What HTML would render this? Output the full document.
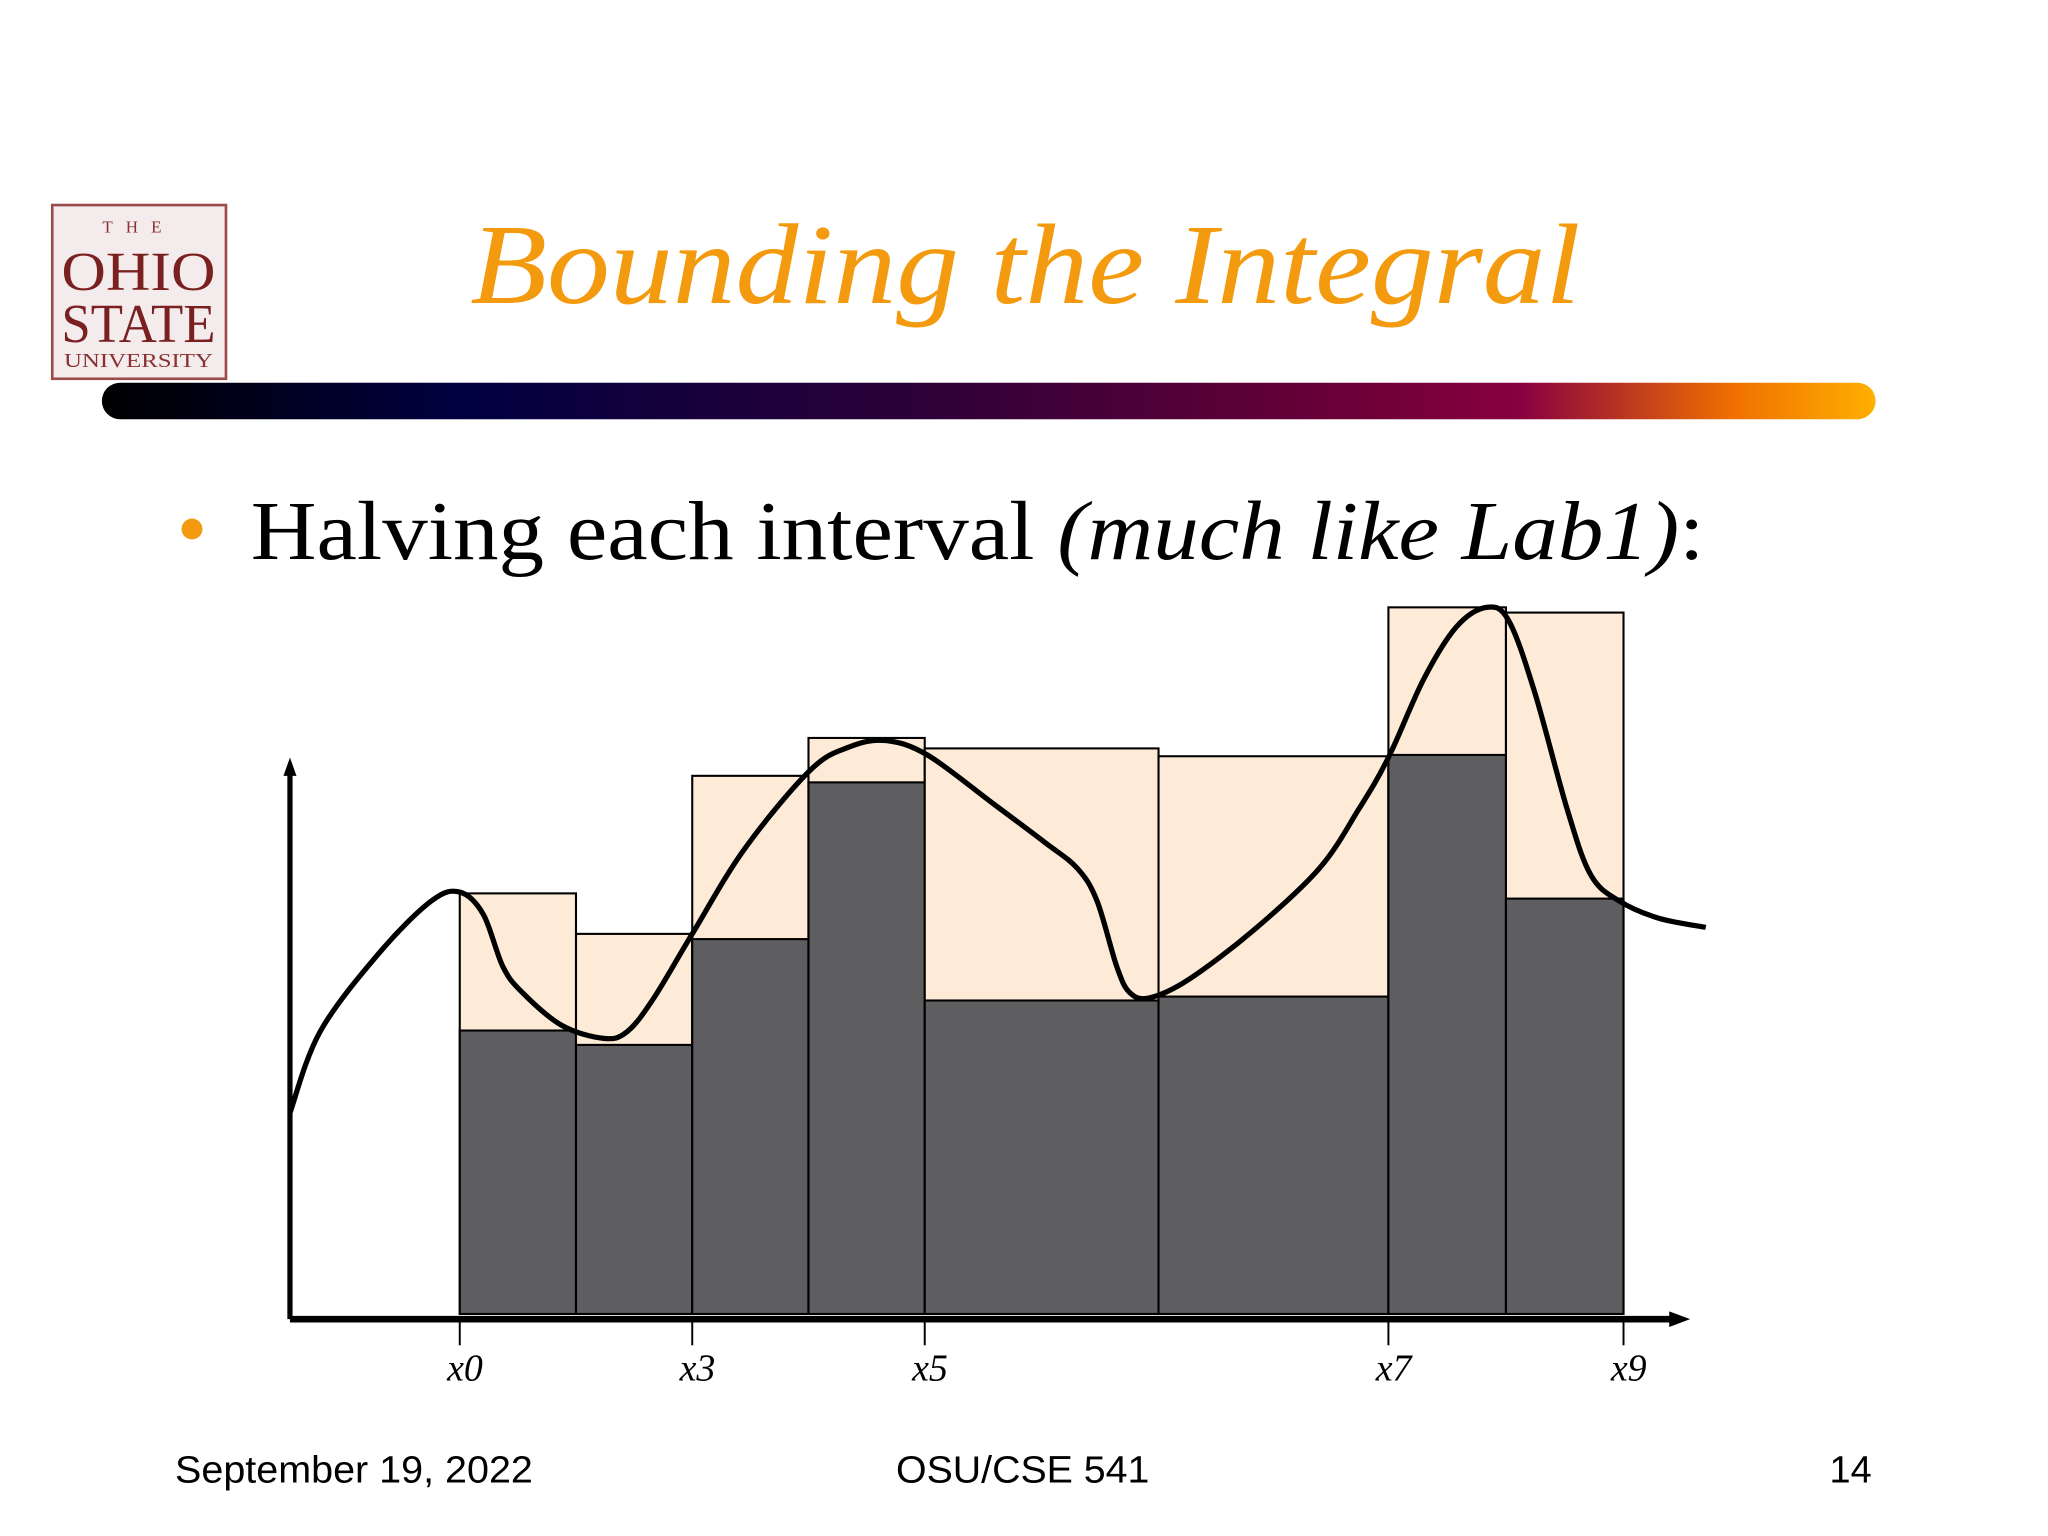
<!DOCTYPE html>
<html><head><meta charset="utf-8"><style>
html,body{margin:0;padding:0;background:#fff;}
svg{display:block;}
</style></head><body>
<svg id="slide" width="2048" height="1536" viewBox="0 0 1568 1176" xmlns="http://www.w3.org/2000/svg">
<defs>
<linearGradient id="bar" x1="0" x2="1" y1="0" y2="0">
<stop offset="0" stop-color="#000"/>
<stop offset="0.2" stop-color="#000040"/>
<stop offset="0.45" stop-color="#2a0038"/>
<stop offset="0.72" stop-color="#700038"/>
<stop offset="0.8" stop-color="#880040"/>
<stop offset="0.92" stop-color="#f07000"/>
<stop offset="1" stop-color="#ffb000"/>
</linearGradient>
</defs>
<g>
<rect x="40" y="157" width="133" height="133" fill="#f4ecec" stroke="#9a4a4a" stroke-width="2"/>
<text x="106" y="178" font-family="Liberation Serif, serif" font-size="13" fill="#8a3030" text-anchor="middle" letter-spacing="10">THE</text>
<text x="106" y="222" font-family="Liberation Serif, serif" font-size="42" fill="#7a2020" text-anchor="middle" textLength="118" lengthAdjust="spacingAndGlyphs">OHIO</text>
<text x="106" y="262" font-family="Liberation Serif, serif" font-size="42" fill="#7a2020" text-anchor="middle" textLength="118" lengthAdjust="spacingAndGlyphs">STATE</text>
<text x="106" y="281" font-family="Liberation Serif, serif" font-size="15" fill="#8a3030" text-anchor="middle" textLength="114" lengthAdjust="spacingAndGlyphs">UNIVERSITY</text>
</g>
<text x="360" y="232" font-family="Liberation Serif, serif" font-style="italic" font-size="88" fill="#f39a0f" textLength="850" lengthAdjust="spacingAndGlyphs">Bounding the Integral</text>
<rect x="78" y="293" width="1358" height="28" rx="14" fill="url(#bar)"/>
<circle cx="147" cy="405" r="8" fill="#f39a0f"/>
<text x="192" y="428" font-family="Liberation Serif, serif" font-size="64" fill="#000" textLength="1113" lengthAdjust="spacingAndGlyphs">Halving each interval <tspan font-style="italic">(much like Lab1)</tspan>:</text>
<g id="chart"></g>
<text x="134" y="1135" font-family="Liberation Sans, sans-serif" font-size="29" fill="#000" textLength="274" lengthAdjust="spacingAndGlyphs">September 19, 2022</text>
<text x="686" y="1135" font-family="Liberation Sans, sans-serif" font-size="29" fill="#000" textLength="194" lengthAdjust="spacingAndGlyphs">OSU/CSE 541</text>
<text x="1433" y="1135" font-family="Liberation Sans, sans-serif" font-size="29" fill="#000" text-anchor="end">14</text>
</svg>
<script>
const edges = [1.30, 2.19, 3.08, 3.97, 4.86, 6.65, 8.41, 9.31, 10.21];
const upperVals = [3.22, 2.91, 4.12, 4.41, 4.33, 4.27, 5.41, 5.37];
const lowerVals = [2.17, 2.06, 2.87, 4.07, 2.40, 2.43, 4.28, 3.18];
const tickIdx = [0, 2, 4, 6, 8];
const tickLabels = ["x0", "x3", "x5", "x7", "x9"];
const curveX = [0, 0.23, 0.68, 1.08, 1.30, 1.48, 1.63, 1.78, 2.08, 2.40, 2.58, 2.78, 3.08, 3.48, 3.98, 4.28, 4.56, 4.88, 5.38, 5.78, 6.03, 6.18, 6.33, 6.43, 6.58, 6.88, 7.38, 7.88, 8.18, 8.41, 8.68, 8.93, 9.16, 9.33, 9.53, 9.78, 9.96, 10.18, 10.48, 10.84];
const curveY = [1.54, 2.16, 2.76, 3.16, 3.23, 3.06, 2.66, 2.46, 2.21, 2.11, 2.16, 2.41, 2.91, 3.56, 4.16, 4.34, 4.39, 4.28, 3.91, 3.61, 3.41, 3.16, 2.66, 2.46, 2.42, 2.56, 2.94, 3.41, 3.86, 4.26, 4.86, 5.26, 5.41, 5.31, 4.76, 3.86, 3.36, 3.16, 3.03, 2.96];

const NS = "http://www.w3.org/2000/svg";
const X0 = 222, YB = 1006;
const xs = v => X0 + v * 100;
const ys = v => YB - v * 100;
const g = document.getElementById('chart');
function mk(tag, attrs) {
  const e = document.createElementNS(NS, tag);
  for (const k in attrs) e.setAttribute(k, attrs[k]);
  g.appendChild(e);
  return e;
}
for (let i = 0; i < upperVals.length; i++) {
  const x = xs(edges[i]), w = xs(edges[i + 1]) - x;
  const u = mk('rect', {x: x, y: ys(upperVals[i]), width: w, height: YB - ys(upperVals[i]), fill: '#fdebd8', stroke: '#000', 'stroke-width': 1.6});
  
  
  const l = mk('rect', {x: x, y: ys(lowerVals[i]), width: w, height: YB - ys(lowerVals[i]), fill: '#5e5e60', stroke: '#000', 'stroke-width': 1.6});
  
  
}
const ya = mk('line', {x1: X0, y1: 1010, x2: X0, y2: 590, stroke: '#000', 'stroke-width': 4});


const yh = mk('path', {d: `M${X0-5},594 L${X0},580 L${X0+5},594 Z`, fill: '#000'});


const xa = mk('line', {x1: X0, y1: 1010, x2: 1282, y2: 1010, stroke: '#000', 'stroke-width': 5});


const xh = mk('path', {d: `M1278,1004 L1294,1010 L1278,1016 Z`, fill: '#000'});


tickIdx.forEach((ti, k) => {
  const x = xs(edges[ti]);
  const t = mk('line', {x1: x, y1: 1010, x2: x, y2: 1030, stroke: '#000', 'stroke-width': 1.5});
  
  
  const tx = mk('text', {x: x + 4, y: 1057, 'font-family': 'Liberation Serif, serif', 'font-style': 'italic', 'font-size': 29, 'text-anchor': 'middle'});
  tx.textContent = tickLabels[k];
  
  
});
const P = curveX.map((x, i) => [xs(x), ys(curveY[i])]);
let d = `M${P[0][0]},${P[0][1]}`;
for (let i = 0; i < P.length - 1; i++) {
  const p0 = P[Math.max(0, i - 1)], p1 = P[i], p2 = P[i + 1], p3 = P[Math.min(P.length - 1, i + 2)];
  const c1 = [p1[0] + (p2[0] - p0[0]) / 6, p1[1] + (p2[1] - p0[1]) / 6];
  const c2 = [p2[0] - (p3[0] - p1[0]) / 6, p2[1] - (p3[1] - p1[1]) / 6];
  d += ` C${c1[0]},${c1[1]} ${c2[0]},${c2[1]} ${p2[0]},${p2[1]}`;
}
const c = mk('path', {d: d, fill: 'none', stroke: '#000', 'stroke-width': 4, 'stroke-linejoin': 'round'});


</script>
</body></html>
